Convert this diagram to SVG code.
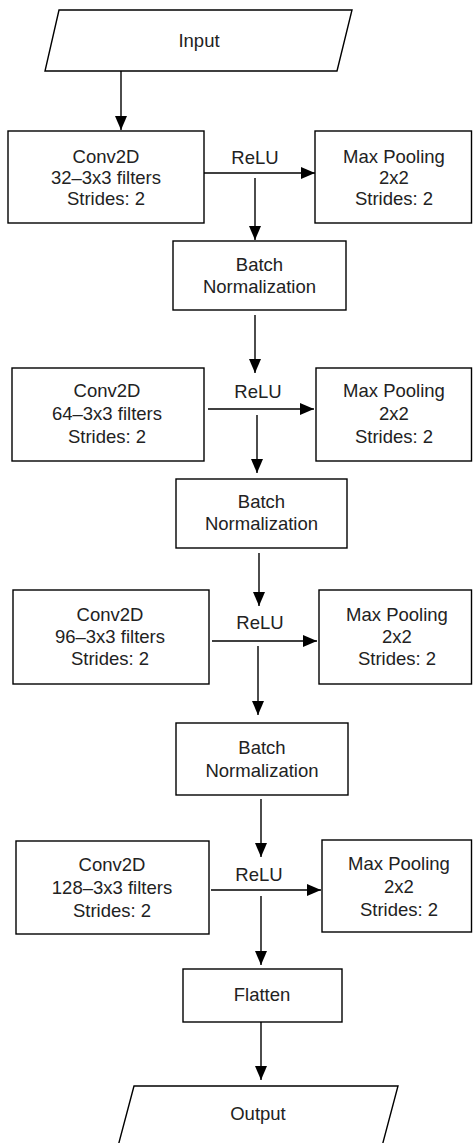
<svg xmlns="http://www.w3.org/2000/svg" width="473" height="1143" viewBox="0 0 473 1143">
<style>
.n{fill:#fff;stroke:#000;stroke-width:1.4}
.t{font-family:"Liberation Sans",Arial,sans-serif;font-size:18.5px;fill:#222;text-anchor:middle}
.c{stroke:#000;stroke-width:1.4;fill:none}
</style>
<defs>
<marker id="ah" viewBox="0 0 14 12" refX="14" refY="6" markerWidth="14" markerHeight="12" markerUnits="userSpaceOnUse" orient="auto">
<path d="M0,0 L14,6 L0,12 z" fill="#000"/>
</marker>
</defs>
<rect width="473" height="1143" fill="#fff"/>
<g id="connectors">
<line class="c" x1="121" y1="71" x2="121" y2="130" marker-end="url(#ah)"/>
<line class="c" x1="204" y1="173" x2="315" y2="173" marker-end="url(#ah)"/>
<line class="c" x1="255" y1="178" x2="255" y2="240" marker-end="url(#ah)"/>
<line class="c" x1="255" y1="315" x2="255" y2="373" marker-end="url(#ah)"/>
<line class="c" x1="208" y1="409" x2="314" y2="409" marker-end="url(#ah)"/>
<line class="c" x1="257" y1="415" x2="257" y2="473" marker-end="url(#ah)"/>
<line class="c" x1="259" y1="553" x2="259" y2="606" marker-end="url(#ah)"/>
<line class="c" x1="212" y1="641" x2="317" y2="641" marker-end="url(#ah)"/>
<line class="c" x1="258" y1="646" x2="258" y2="715" marker-end="url(#ah)"/>
<line class="c" x1="261" y1="799" x2="261" y2="857" marker-end="url(#ah)"/>
<line class="c" x1="211" y1="890" x2="321" y2="890" marker-end="url(#ah)"/>
<line class="c" x1="261" y1="896" x2="261" y2="965" marker-end="url(#ah)"/>
<line class="c" x1="261" y1="1022" x2="261" y2="1080" marker-end="url(#ah)"/>
</g>
<g id="input">
<polygon class="n" points="59,10 352,10 337,71 45,71"/>
<text class="t" x="199" y="46.5">Input</text>
</g>
<g id="conv1">
<rect class="n" x="8" y="131" width="196" height="92"/>
<text class="t" x="106" y="162.5">Conv2D</text>
<text class="t" x="106" y="183.5">32–3x3 filters</text>
<text class="t" x="106" y="204.5">Strides: 2</text>
</g>
<g id="relu1"><text class="t" x="255" y="163.5">ReLU</text></g>
<g id="pool1">
<rect class="n" x="315" y="131" width="156.5" height="92"/>
<text class="t" x="394" y="162.5">Max Pooling</text>
<text class="t" x="394" y="183.5">2x2</text>
<text class="t" x="394" y="204.5">Strides: 2</text>
</g>
<g id="bn1">
<rect class="n" x="173" y="241" width="173" height="69"/>
<text class="t" x="259.5" y="270.5">Batch</text>
<text class="t" x="259.5" y="292.5">Normalization</text>
</g>
<g id="conv2">
<rect class="n" x="12" y="368" width="192" height="93"/>
<text class="t" x="107" y="396.5">Conv2D</text>
<text class="t" x="107" y="419.5">64–3x3 filters</text>
<text class="t" x="107" y="442.5">Strides: 2</text>
</g>
<g id="relu2"><text class="t" x="258" y="397.5">ReLU</text></g>
<g id="pool2">
<rect class="n" x="316" y="368" width="155.5" height="93"/>
<text class="t" x="394" y="396.5">Max Pooling</text>
<text class="t" x="394" y="419.5">2x2</text>
<text class="t" x="394" y="442.5">Strides: 2</text>
</g>
<g id="bn2">
<rect class="n" x="176" y="479" width="171" height="69"/>
<text class="t" x="261.5" y="507.5">Batch</text>
<text class="t" x="261.5" y="529.5">Normalization</text>
</g>
<g id="conv3">
<rect class="n" x="13" y="590" width="196" height="94"/>
<text class="t" x="110" y="620.5">Conv2D</text>
<text class="t" x="110" y="642.5">96–3x3 filters</text>
<text class="t" x="110" y="664.5">Strides: 2</text>
</g>
<g id="relu3"><text class="t" x="260" y="628.5">ReLU</text></g>
<g id="pool3">
<rect class="n" x="319" y="590" width="152.5" height="94"/>
<text class="t" x="397" y="620.5">Max Pooling</text>
<text class="t" x="397" y="642.5">2x2</text>
<text class="t" x="397" y="664.5">Strides: 2</text>
</g>
<g id="bn3">
<rect class="n" x="176" y="723" width="172" height="72"/>
<text class="t" x="262" y="753.5">Batch</text>
<text class="t" x="262" y="776.5">Normalization</text>
</g>
<g id="conv4">
<rect class="n" x="16" y="841" width="193" height="93"/>
<text class="t" x="112" y="870.5">Conv2D</text>
<text class="t" x="112" y="893.5">128–3x3 filters</text>
<text class="t" x="112" y="916.5">Strides: 2</text>
</g>
<g id="relu4"><text class="t" x="259" y="880.5">ReLU</text></g>
<g id="pool4">
<rect class="n" x="322" y="840" width="149.5" height="92"/>
<text class="t" x="399" y="869.5">Max Pooling</text>
<text class="t" x="399" y="892.5">2x2</text>
<text class="t" x="399" y="915.5">Strides: 2</text>
</g>
<g id="flatten">
<rect class="n" x="183" y="969" width="159" height="53"/>
<text class="t" x="262" y="1000.5">Flatten</text>
</g>
<g id="output">
<polygon class="n" points="134,1086 398,1086 381,1150 117,1150"/>
<text class="t" x="258" y="1119.5">Output</text>
</g>
</svg>
